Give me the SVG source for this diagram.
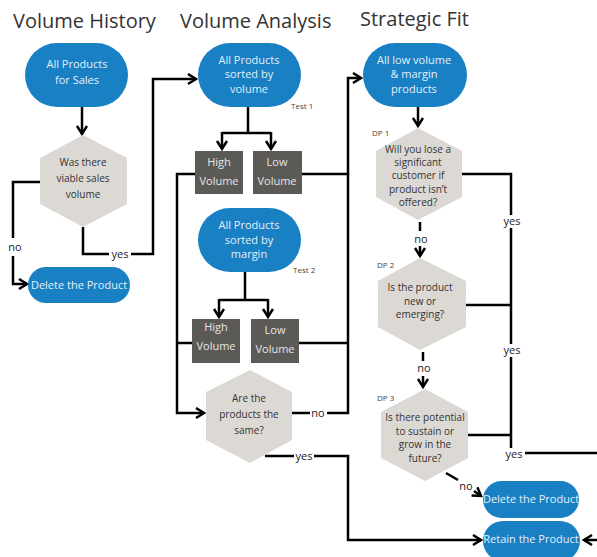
<svg xmlns="http://www.w3.org/2000/svg" width="597" height="557" viewBox="0 0 597 557">
<style>
.title{font-family:"Open Sans","Liberation Sans",sans-serif;font-size:20px;fill:#333}
.pill{fill:#1a80c4}
.pt{font-family:"Open Sans","Liberation Sans",sans-serif;font-size:11px;fill:#e4eff8;text-anchor:middle}
.box{fill:#5c5a57}
.bt{font-family:"Open Sans","Liberation Sans",sans-serif;font-size:11px;fill:#e6e6e6;text-anchor:middle}
.hex{fill:#dcd9d5}
.ht{font-family:"Open Sans","Liberation Sans",sans-serif;font-size:10px;fill:#333;text-anchor:middle}
.small{font-family:"Open Sans","Liberation Sans",sans-serif;font-size:8px;fill:#444}
.lbl{font-family:"Open Sans","Liberation Sans",sans-serif;font-size:11px;fill:#222;text-anchor:middle}
.ln{fill:none;stroke:#000;stroke-width:2.5}
.ar{marker-end:url(#arr)}
</style>
<defs>
<marker id="arr" markerUnits="userSpaceOnUse" markerWidth="14" markerHeight="14" refX="9" refY="6" orient="auto">
<path d="M1,1 L9,6 L1,11" fill="none" stroke="#000" stroke-width="2.5"/>
</marker>
</defs>
<rect width="597" height="557" fill="#fff"/>
<text class="title" x="13" y="28">Volume History</text>
<text class="title" x="180" y="28">Volume Analysis</text>
<text class="title" x="360" y="26">Strategic Fit</text>

<g id="connectors">
<path class="ln ar" d="M82,107 V134"/>
<path class="ln" d="M40,182 H13 V238"/>
<path class="ln ar" d="M13,256 V284 H27"/>
<path class="ln" d="M83,227 V254 H109"/>
<path class="ln ar" d="M131,254 H153 V79 H196"/>
<path class="ln" d="M248,107 V133 M222,133 H271"/>
<path class="ln ar" d="M222,132 V149"/>
<path class="ln ar" d="M271,132 V149"/>
<path class="ln ar" d="M195,174 H177 V413 H204"/>
<path class="ln ar" d="M302,174 H348 V78 H361"/>
<path class="ln" d="M348,174 V413 H327 M310,413 H292"/>
<path class="ln" d="M245,272 V300 M219,300 H268"/>
<path class="ln ar" d="M219,299 V317"/>
<path class="ln ar" d="M268,299 V317"/>
<path class="ln" d="M192,343 H177"/>
<path class="ln" d="M299,343 H348"/>
<path class="ln ar" d="M265,456 H294 M314,456 H348 V540 H481"/>
<path class="ln ar" d="M418,107 V126"/>
<path class="ln" d="M462,174 H511 V215 M511,228 V344 M511,357 V448 M525,453 H597"/>
<path class="ln" d="M466,305 H511"/>
<path class="ln" d="M468,435 H511"/>
<path class="ln" d="M420,222 V231"/>
<path class="ln ar" d="M420,246 V256"/>
<path class="ln" d="M423,352 V361"/>
<path class="ln ar" d="M423,376 V387"/>
<path class="ln" d="M446,473 L458,480"/>
<path class="ln ar" d="M474,491 L481,496"/>
<path class="ln ar" d="M597,540 H584"/>
<text class="lbl" x="15" y="251">no</text>
<text class="lbl" x="120" y="258">yes</text>
<text class="lbl" x="318" y="417">no</text>
<text class="lbl" x="304" y="460">yes</text>
<text class="lbl" x="512" y="225">yes</text>
<text class="lbl" x="421" y="243">no</text>
<text class="lbl" x="512" y="354">yes</text>
<text class="lbl" x="424" y="372">no</text>
<text class="lbl" x="514" y="458">yes</text>
<text class="lbl" x="466" y="490">no</text>
</g>

<g id="n_all_sales">
<rect class="pill" x="25" y="43" width="103" height="64" rx="32"/>
<text class="pt" x="77" y="68">All Products</text>
<text class="pt" x="77" y="84">for Sales</text>
</g>
<g id="d_viable">
<polygon class="hex" points="83,135 127,158 127,204 83,227 40,204 40,158"/>
<text class="ht" x="83" y="166">Was there</text>
<text class="ht" x="83" y="182">viable sales</text>
<text class="ht" x="83" y="198">volume</text>
</g>
<g id="n_delete1">
<rect class="pill" x="28" y="267" width="102" height="36" rx="18"/>
<text class="pt" x="79" y="289">Delete the Product</text>
</g>

<g id="n_sorted_volume">
<rect class="pill" x="198" y="43" width="103" height="64" rx="32"/>
<text class="pt" x="249" y="64">All Products</text>
<text class="pt" x="249" y="78">sorted by</text>
<text class="pt" x="249" y="93">volume</text>
<text class="small" x="291" y="109">Test 1</text>
</g>
<g id="b_high1">
<rect class="box" x="195" y="151" width="48" height="43"/>
<text class="bt" x="219" y="166">High</text>
<text class="bt" x="219" y="185">Volume</text>
</g>
<g id="b_low1">
<rect class="box" x="253" y="151" width="49" height="43"/>
<text class="bt" x="277" y="166">Low</text>
<text class="bt" x="277" y="185">Volume</text>
</g>
<g id="n_sorted_margin">
<rect class="pill" x="198" y="208" width="103" height="64" rx="32"/>
<text class="pt" x="249" y="229">All Products</text>
<text class="pt" x="249" y="244">sorted by</text>
<text class="pt" x="249" y="258">margin</text>
<text class="small" x="293" y="273">Test 2</text>
</g>
<g id="b_high2">
<rect class="box" x="192" y="319" width="48" height="44"/>
<text class="bt" x="216" y="331">High</text>
<text class="bt" x="216" y="350">Volume</text>
</g>
<g id="b_low2">
<rect class="box" x="251" y="319" width="48" height="44"/>
<text class="bt" x="275" y="334">Low</text>
<text class="bt" x="275" y="353">Volume</text>
</g>
<g id="d_same">
<polygon class="hex" points="250,370 292,392 292,440 250,463 206,440 206,392"/>
<text class="ht" x="249" y="402">Are the</text>
<text class="ht" x="249" y="418">products the</text>
<text class="ht" x="249" y="434">same?</text>
</g>

<g id="n_low_margin">
<rect class="pill" x="363" y="43" width="104" height="64" rx="32"/>
<text class="pt" x="414" y="64">All low volume</text>
<text class="pt" x="414" y="78">&amp; margin</text>
<text class="pt" x="414" y="93">products</text>
</g>
<g id="d_dp1">
<text class="small" x="372" y="136">DP 1</text>
<polygon class="hex" points="418,128 462,151 462,197 418,220 376,197 376,151"/>
<text class="ht" x="418" y="153">Will you lose a</text>
<text class="ht" x="418" y="166">significant</text>
<text class="ht" x="418" y="179">customer if</text>
<text class="ht" x="418" y="193">product isn’t</text>
<text class="ht" x="418" y="206">offered?</text>
</g>
<g id="d_dp2">
<text class="small" x="377" y="268">DP 2</text>
<polygon class="hex" points="420,258 466,281 466,327 420,350 378,327 378,281"/>
<text class="ht" x="420" y="291">Is the product</text>
<text class="ht" x="420" y="305">new or</text>
<text class="ht" x="420" y="318">emerging?</text>
</g>
<g id="d_dp3">
<text class="small" x="377" y="401">DP 3</text>
<polygon class="hex" points="425,389 468,412 468,458 425,481 381,458 381,412"/>
<text class="ht" x="425" y="421">Is there potential</text>
<text class="ht" x="425" y="435">to sustain or</text>
<text class="ht" x="425" y="448">grow in the</text>
<text class="ht" x="425" y="462">future?</text>
</g>
<g id="n_delete2">
<rect class="pill" x="483" y="481" width="96" height="37" rx="18.5"/>
<text class="pt" x="531" y="503">Delete the Product</text>
</g>
<g id="n_retain">
<rect class="pill" x="483" y="521" width="97" height="40" rx="20"/>
<text class="pt" x="531" y="543">Retain the Product</text>
</g>
</svg>
